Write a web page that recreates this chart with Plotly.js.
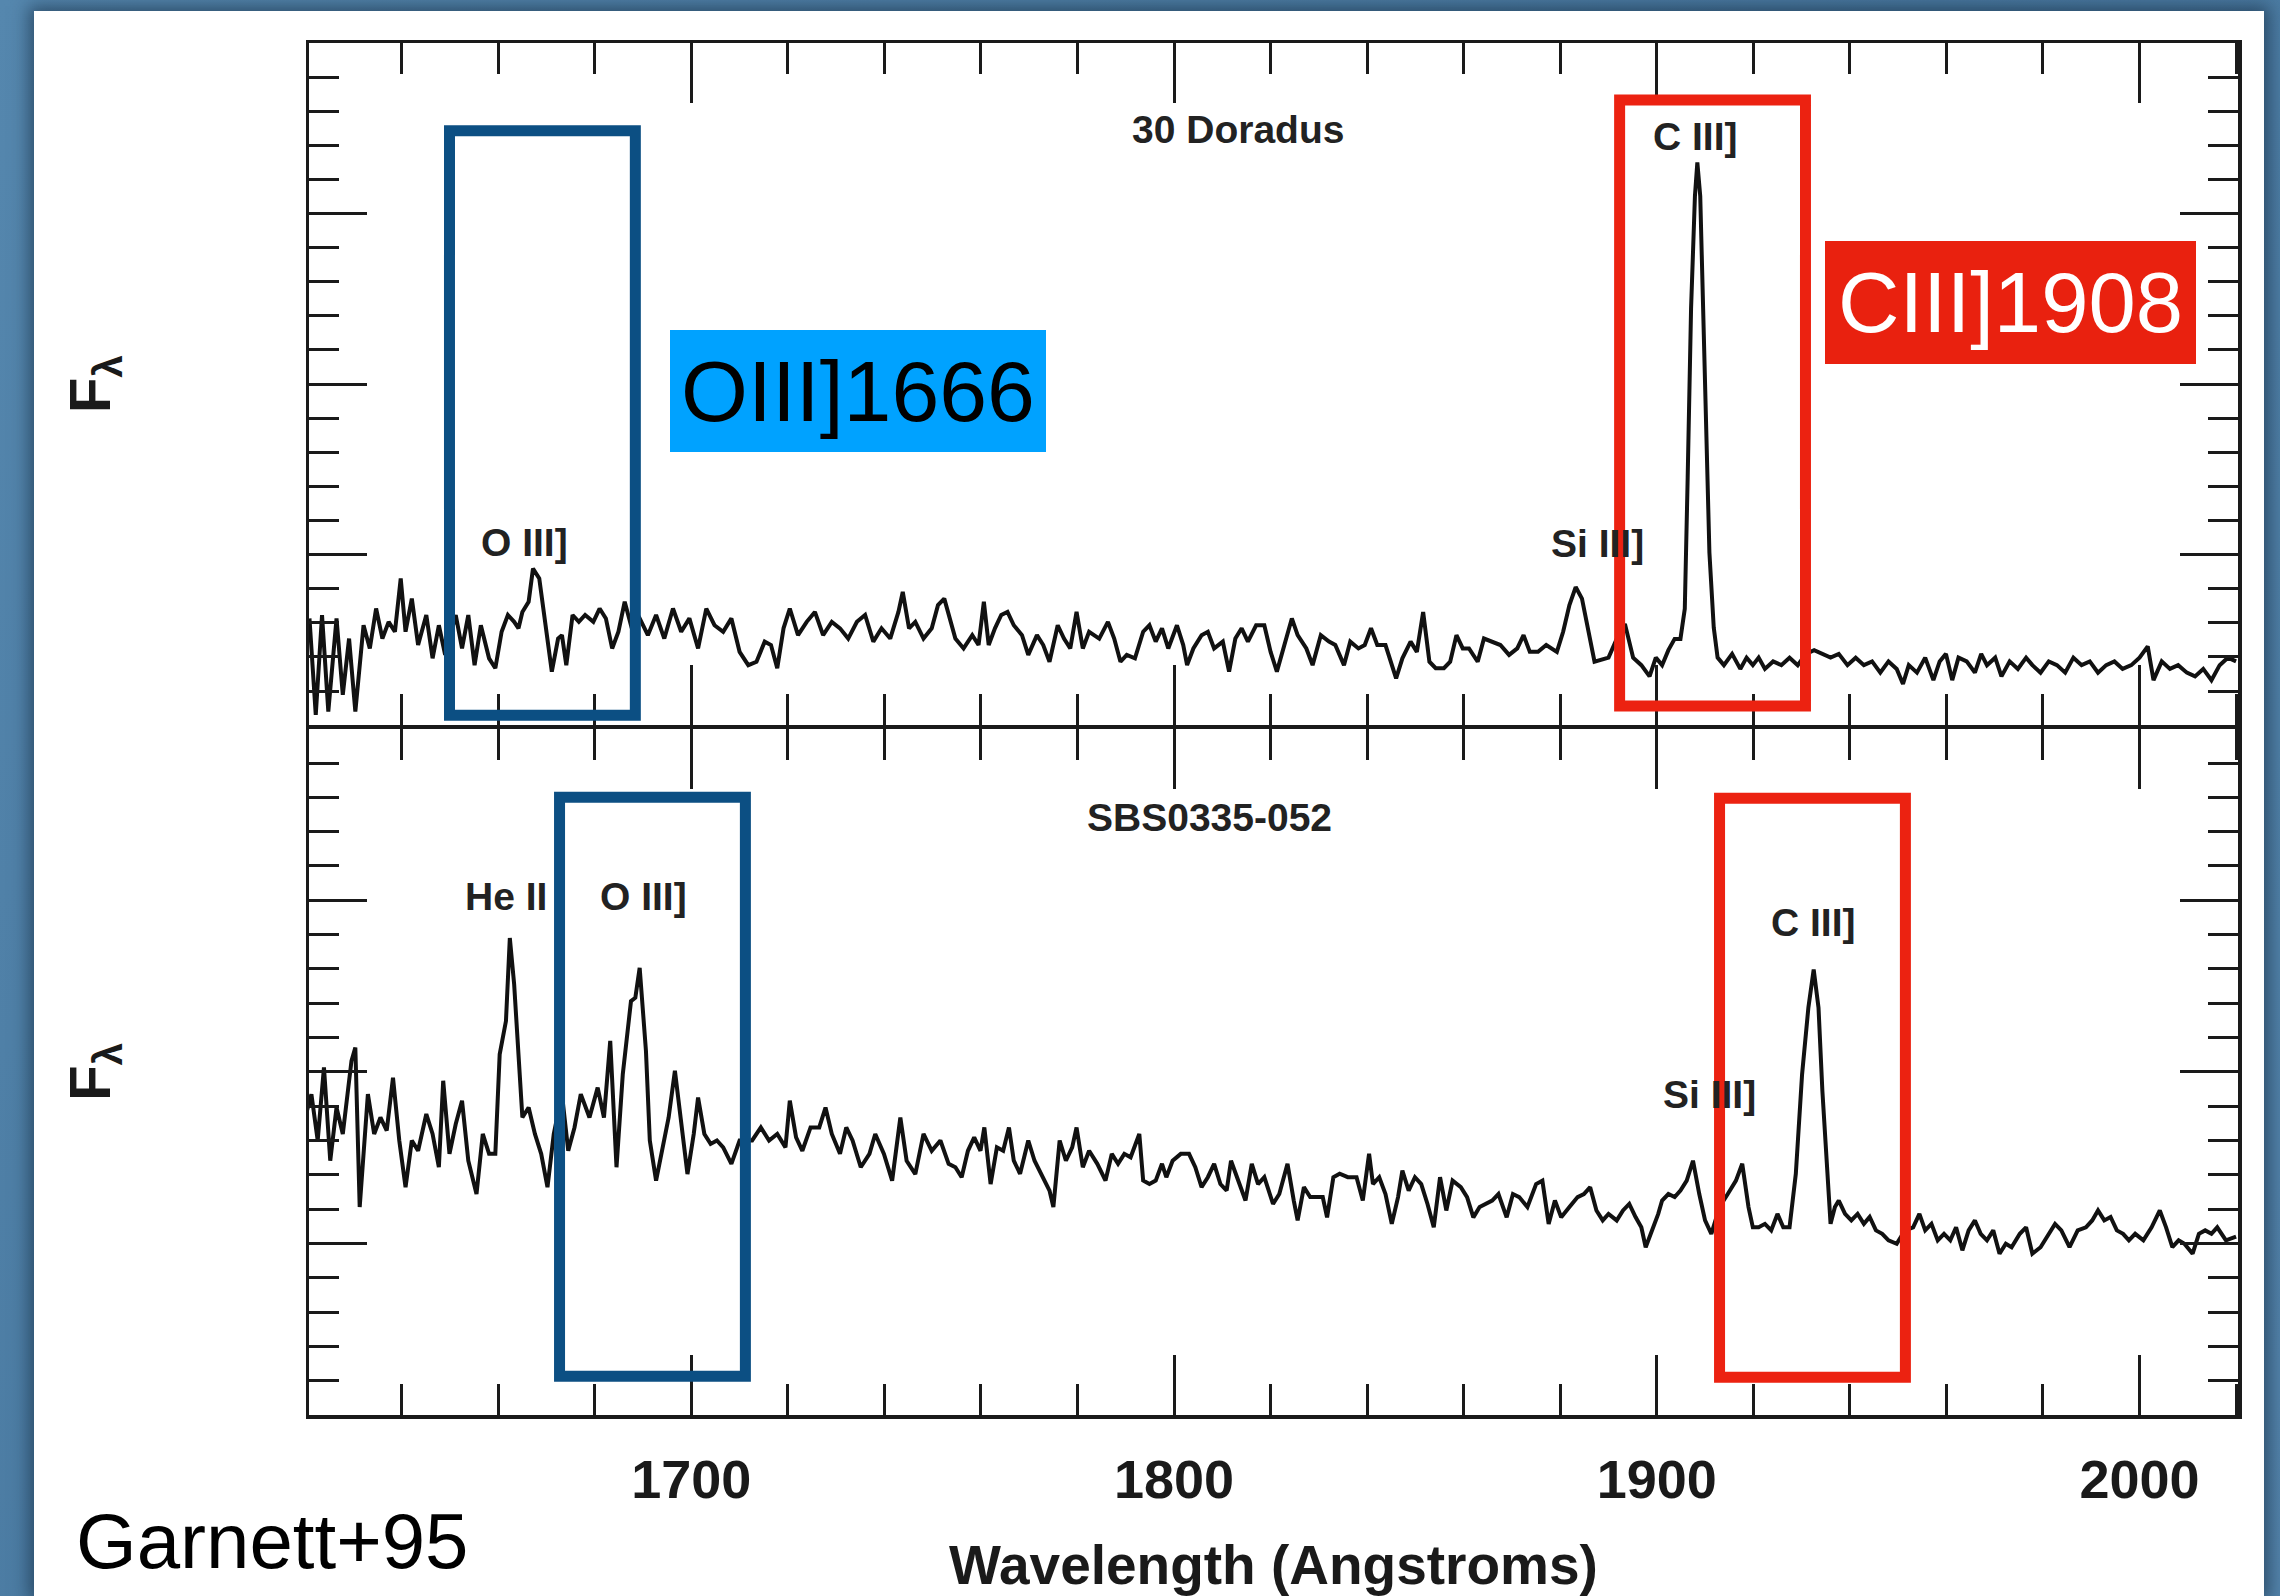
<!DOCTYPE html>
<html>
<head>
<meta charset="utf-8">
<script src="https://cdn.plot.ly/plotly-3.0.1.min.js"></script>
<style>
  html, body { margin: 0; padding: 0; width: 2280px; height: 1596px; overflow: hidden;
    background: linear-gradient(135deg, #5587ae 0%, #4a7aa1 50%, #5383aa 100%); }
  #sheet { position: absolute; left: 34px; top: 11px; width: 2230px; height: 1585px; background: #fff;
    box-shadow: 0 0 16px 5px rgba(15, 35, 55, 0.55); }
  #chart { width: 2230px; height: 1585px; }
</style>
</head>
<body>
<div id="sheet"><div id="chart"></div></div>
<script>
// Wavelength axis labels (Angstroms)
const xTickVals = [1700, 1800, 1900, 2000];
const xTickText = ['1700', '1800', '1900', '2000'];

// 30 Doradus UV spectrum: [wavelength (A), F_lambda (arbitrary units)]
const spec30Dor = [
  [1620.9,3.13],[1622.2,0.30],[1623.5,3.23],[1624.8,0.40],[1626.5,3.13],[1627.8,0.89],[1629.1,2.54],[1630.4,0.40],
  [1632.1,2.93],[1633.4,2.25],[1634.7,3.42],[1636.0,2.54],[1637.3,3.03],[1638.6,2.74],[1639.8,4.30],[1640.8,2.74],
  [1642.1,3.71],[1643.4,2.35],[1645.1,3.23],[1646.4,1.96],[1647.7,2.93],[1649.0,2.06],[1651.2,3.23],[1652.5,2.25],
  [1653.8,3.23],[1655.1,1.76],[1656.4,2.93],[1658.1,1.96],[1659.4,1.67],[1660.7,2.74],[1662.0,3.23],[1663.3,3.03],
  [1664.2,2.84],[1665.0,3.32],[1666.3,3.62],[1667.2,4.59],[1668.5,4.30],[1669.8,2.93],[1671.1,1.57],[1672.4,2.54],
  [1673.2,2.64],[1674.1,1.76],[1675.4,3.23],[1676.7,3.03],[1678.0,3.23],[1679.7,3.03],[1681.0,3.42],[1682.3,3.13],
  [1683.6,2.25],[1684.9,2.74],[1686.2,3.62],[1687.5,2.93],[1689.3,3.13],[1691.0,2.64],[1692.7,3.23],[1694.4,2.54],
  [1696.2,3.42],[1697.9,2.74],[1699.6,3.13],[1701.4,2.25],[1703.1,3.42],[1704.8,2.93],[1706.6,2.74],[1708.3,3.13],
  [1710.0,2.15],[1711.8,1.76],[1713.5,1.86],[1715.2,2.45],[1716.5,2.35],[1717.8,1.67],[1719.1,2.84],[1720.4,3.42],
  [1722.1,2.64],[1723.9,3.03],[1725.6,3.32],[1727.3,2.64],[1729.1,3.03],[1730.8,2.84],[1732.5,2.54],[1734.3,3.03],
  [1736.0,3.23],[1737.7,2.45],[1739.4,2.84],[1741.2,2.54],[1742.9,3.32],[1743.8,3.91],[1745.1,2.84],[1746.4,3.03],
  [1748.1,2.54],[1749.8,2.84],[1751.1,3.52],[1752.4,3.71],
  [1754.7,2.54],[1756.4,2.25],[1758.2,2.64],[1759.5,2.35],[1760.6,3.62],[1761.6,2.35],[1762.9,2.84],[1764.2,3.23],
  [1765.5,3.32],[1766.8,2.93],[1768.5,2.64],[1769.8,2.06],[1771.6,2.64],[1772.9,2.35],[1774.2,1.86],[1775.9,2.93],
  [1777.2,2.54],[1778.5,2.25],[1779.8,3.32],[1781.1,2.25],[1782.4,2.74],[1784.5,2.54],[1786.3,3.03],[1787.6,2.54],
  [1788.9,1.86],[1790.2,2.06],[1791.9,1.96],[1793.6,2.74],[1794.9,2.93],[1796.2,2.45],[1797.5,2.84],[1798.8,2.25],
  [1800.6,2.93],[1801.9,2.35],[1802.7,1.76],[1804.0,2.25],[1805.7,2.64],[1807.0,2.74],[1808.3,2.25],[1810.1,2.45],
  [1811.4,1.57],[1812.7,2.54],[1814.0,2.84],[1815.3,2.45],[1817.0,2.93],[1818.7,2.93],[1820.0,2.15],[1821.3,1.57],
  [1822.6,2.25],[1824.4,3.13],[1825.6,2.64],[1827.4,2.25],[1828.7,1.76],[1830.4,2.64],[1832.1,2.45],[1833.4,2.35],
  [1835.2,1.76],[1836.5,2.45],[1838.2,2.25],[1839.5,2.35],[1840.8,2.84],[1842.1,2.35],[1843.8,2.35],[1845.1,1.76],
  [1846.0,1.37],[1847.3,1.96],[1849.0,2.45],[1850.3,2.15],[1851.6,3.32],[1852.9,1.86],[1854.2,1.67],[1855.9,1.67],
  [1857.2,1.86],[1858.5,2.64],[1859.8,2.25],[1861.1,2.25],[1862.9,1.86],[1864.2,2.54],[1865.9,2.45],[1867.6,2.35],
  [1869.4,2.06],[1871.1,2.25],[1872.4,2.64],[1873.7,2.15],[1875.4,2.15],[1877.1,2.35],[1879.3,2.15],[1880.6,2.74],
  [1881.9,3.52],[1883.2,4.05],[1884.5,3.71],[1885.8,2.74],[1887.1,1.86],
  [1890.0,1.98],[1891.7,2.53],[1893.4,2.97],[1895.1,1.98],[1896.8,1.76],[1898.5,1.43],[1899.8,1.98],[1901.1,1.76],
  [1902.4,2.20],[1903.7,2.53],[1904.9,2.53],[1905.8,3.41],[1906.4,7.26],[1907.1,12.21],[1907.9,15.51],[1908.4,16.50],
  [1909.0,15.51],[1909.6,12.21],[1910.3,8.36],[1910.9,5.06],[1911.8,2.86],[1912.6,1.98],[1913.9,1.76],[1915.6,2.09],
  [1917.3,1.65],[1918.6,1.98],[1919.9,1.76],[1921.1,1.98],[1922.4,1.65],[1924.1,1.87],[1925.8,1.76],[1927.5,1.98],
  [1929.2,1.76],[1930.9,2.09],[1932.6,2.20],[1934.3,2.09],[1936.0,1.98],[1937.7,2.09],[1939.5,1.76],[1941.2,1.98],
  [1942.9,1.76],[1944.6,1.87],[1946.3,1.54],[1948.0,1.87],[1949.7,1.65],[1951.0,1.21],[1952.2,1.76],[1953.9,1.54],
  [1955.6,1.98],[1957.3,1.32],[1958.6,1.87],[1959.9,2.09],[1961.2,1.32],[1962.5,1.98],[1964.2,1.87],[1965.9,1.54],
  [1967.2,2.09],[1968.4,1.76],[1970.1,1.98],[1971.4,1.43],[1973.1,1.87],[1974.8,1.65],[1976.5,1.98],[1977.8,1.76],
  [1979.5,1.54],[1981.2,1.87],[1982.9,1.76],[1984.6,1.54],[1986.3,1.98],[1988.0,1.76],[1989.7,1.87],[1991.4,1.54],
  [1993.1,1.76],[1994.8,1.87],[1996.5,1.65],[1998.3,1.76],[2000.0,1.98],[2001.7,2.31],[2002.9,1.32],[2004.6,1.87],
  [2006.3,1.65],[2008.0,1.76],[2009.8,1.54],[2011.5,1.43],[2013.2,1.65],[2014.9,1.32],[2016.6,1.76],[2018.3,1.98],
  [2020.0,1.87]
];

// SBS0335-052 UV spectrum: [wavelength (A), F_lambda (arbitrary units)]
const specSBS = [
  [1620.0,8.67],[1621.3,9.35],[1622.6,8.00],[1623.9,10.13],[1625.2,7.41],[1626.5,8.96],[1627.8,8.19],[1629.6,10.32],
  [1630.4,10.71],[1631.3,6.06],[1633.0,9.35],[1634.3,8.19],[1635.6,8.67],[1636.9,8.29],[1638.2,9.83],[1639.5,8.00],
  [1640.8,6.64],[1642.1,8.00],[1643.4,7.70],[1645.1,8.77],[1646.4,8.19],[1647.7,7.22],[1648.6,9.74],[1649.9,7.61],
  [1651.2,8.48],[1652.5,9.16],[1653.8,7.41],[1655.5,6.44],[1656.8,8.19],[1658.1,7.61],[1659.4,7.61],[1660.3,10.51],
  [1661.6,11.48],[1662.4,13.90],[1663.3,12.55],[1664.2,10.61],[1665.0,8.67],[1666.3,8.96],[1667.6,8.19],[1668.9,7.61],
  [1670.2,6.64],[1671.5,8.19],[1673.2,9.35],[1674.5,7.70],[1675.8,8.38],[1677.1,9.35],[1678.9,8.67],[1680.6,9.54],
  [1681.9,8.67],[1683.2,10.90],[1684.5,7.22],[1685.8,9.93],[1687.5,12.06],[1688.4,12.16],[1689.3,13.03],[1690.6,10.61],
  [1691.4,8.00],[1692.7,6.83],[1694.0,7.70],[1695.3,8.67],[1696.6,10.03],[1697.9,8.57],[1699.2,7.02],[1700.5,8.19],
  [1701.4,9.25],[1702.7,8.19],[1704.0,7.90],[1705.3,8.00],[1706.6,7.80],[1708.3,7.32],[1710.0,8.00],[1712.6,8.00],
  [1714.4,8.38],[1716.1,8.00],[1717.8,8.19],[1719.5,7.80],[1720.4,9.16],[1721.7,8.09],[1723.0,7.70],[1724.7,8.38],
  [1726.5,8.38],[1727.8,8.96],[1729.1,8.19],[1730.8,7.61],[1732.1,8.38],[1733.4,8.00],[1735.1,7.22],[1736.9,7.61],
  [1738.1,8.19],[1739.9,7.61],[1741.6,6.83],[1743.3,8.67],[1744.6,7.41],[1746.4,7.02],[1748.1,8.19],[1749.8,7.70],
  [1751.6,8.00],[1753.3,7.32],
  [1754.7,7.22],[1756.0,6.93],[1757.3,7.70],[1758.6,8.09],[1759.9,7.70],[1760.7,8.38],[1762.0,6.73],[1763.3,7.80],
  [1764.6,7.70],[1765.8,8.38],[1766.8,7.41],[1768.1,7.03],[1769.8,8.00],[1771.1,7.41],[1772.9,6.93],[1774.2,6.54],
  [1775.0,6.06],[1776.3,8.00],[1777.6,7.41],[1778.9,7.80],[1779.8,8.38],[1781.1,7.22],[1782.4,7.70],[1784.1,7.32],
  [1785.8,6.83],[1787.1,7.61],[1788.4,7.32],[1789.7,7.61],[1791.0,7.51],[1792.8,8.19],[1793.6,6.83],[1794.9,6.73],
  [1796.2,6.83],[1797.5,7.32],[1798.4,6.93],[1799.7,7.41],[1801.4,7.61],[1803.1,7.61],[1804.4,7.22],[1805.7,6.64],
  [1807.0,6.93],[1808.3,7.32],[1809.6,6.73],[1810.9,6.54],[1811.8,7.41],[1813.5,6.73],[1814.8,6.25],[1816.1,7.32],
  [1817.4,6.73],[1818.7,6.93],[1820.5,6.15],[1821.8,6.44],[1823.5,7.32],[1824.8,6.25],[1825.6,5.67],[1826.9,6.64],
  [1828.2,6.35],[1829.5,6.35],[1830.8,6.35],[1831.7,5.76],[1833.0,6.93],[1834.3,7.03],[1836.0,6.93],[1837.8,6.93],
  [1839.1,6.25],[1840.4,7.61],[1841.2,6.73],[1842.5,6.93],[1843.8,6.44],[1845.1,5.57],[1846.4,6.35],[1847.3,7.12],
  [1848.6,6.54],[1849.9,6.93],[1851.2,6.73],[1852.5,6.15],[1853.8,5.47],[1855.1,6.93],[1856.4,5.96],[1857.7,6.83],
  [1859.4,6.64],[1860.7,6.35],[1862.0,5.76],[1863.3,6.06],[1864.6,6.15],[1865.9,6.25],[1867.2,6.44],[1868.9,5.76],
  [1870.2,6.44],[1871.5,6.35],[1873.2,6.06],[1875.0,6.73],[1876.3,6.83],[1877.6,5.57],[1878.9,6.25],[1880.2,5.76],
  [1881.9,6.06],[1883.6,6.35],[1884.9,6.44],[1886.2,6.64],[1887.5,5.96],[1888.8,5.67],
  [1890.0,5.86],[1891.7,5.67],[1893.0,5.96],[1894.3,6.15],[1895.6,5.77],[1896.8,5.47],[1897.7,4.89],[1899.0,5.38],
  [1900.3,5.86],[1901.1,6.25],[1902.4,6.44],[1903.7,6.35],[1904.9,6.54],[1906.2,6.83],[1907.5,7.41],[1908.8,6.44],
  [1910.0,5.67],[1911.3,5.28],[1913.0,6.06],[1914.7,6.44],[1916.4,6.83],[1917.7,7.32],[1919.0,6.06],[1919.9,5.47],
  [1921.1,5.47],[1922.4,5.57],[1923.7,5.38],[1925.0,5.86],[1926.2,5.47],[1927.5,5.47],[1928.8,7.03],[1930.1,9.93],
  [1931.4,11.87],[1932.5,12.98],[1933.5,11.87],[1934.3,9.45],[1935.2,7.51],[1936.0,5.57],[1936.9,6.06],[1937.7,6.25],
  [1939.0,5.86],[1940.3,5.67],[1941.6,5.86],[1942.9,5.57],[1944.1,5.77],[1945.4,5.38],[1946.7,5.28],[1948.0,5.09],
  [1949.7,4.99],[1951.4,5.38],[1953.1,5.47],[1954.4,5.86],[1955.6,5.38],[1956.9,5.57],[1958.2,5.09],[1959.5,5.28],
  [1960.8,5.09],[1962.0,5.47],[1963.3,4.80],[1964.6,5.38],[1965.9,5.67],[1967.1,5.28],[1968.4,5.09],[1969.7,5.38],
  [1971.0,4.70],[1972.3,4.99],[1973.5,4.89],[1975.2,5.28],[1976.5,5.47],[1977.8,4.70],[1979.5,4.89],[1981.2,5.28],
  [1982.5,5.57],[1983.8,5.38],[1985.5,4.89],[1987.2,5.38],[1988.9,5.47],[1990.2,5.67],[1991.4,5.96],[1992.7,5.67],
  [1994.0,5.77],[1995.3,5.38],[1996.6,5.28],[1997.8,5.09],[1999.1,5.28],[2000.8,5.09],[2002.5,5.47],[2004.2,5.96],
  [2005.5,5.47],[2006.8,4.89],[2008.1,5.09],[2009.3,4.99],[2011.0,4.70],[2012.3,5.28],[2013.6,5.38],[2014.9,5.28],
  [2016.1,5.47],[2017.9,5.09],[2020.0,5.20]
];

const FONT = 'Liberation Sans, Arial, Helvetica, sans-serif';
const INK = '#1a1a1a';
const SPLIT = 0.5015;          // boundary between the two stacked panels
const GAP = 0.00128;           // half of the frame-line width, so both panel edges share one line
const BLUE_PEN = '#0c4f83';
const RED_PEN = '#ec2211';

const spectrumLine = { color: '#111', width: 4 };

const traces = [
  { x: spec30Dor.map(p => p[0]), y: spec30Dor.map(p => p[1]), xaxis: 'x2', yaxis: 'y2',
    type: 'scatter', mode: 'lines', line: spectrumLine, name: '30 Doradus', hoverinfo: 'skip' },
  { x: specSBS.map(p => p[0]), y: specSBS.map(p => p[1]), xaxis: 'x', yaxis: 'y',
    type: 'scatter', mode: 'lines', line: spectrumLine, name: 'SBS0335-052', hoverinfo: 'skip' }
];

const xBase = {
  range: [1620.8, 2020.4], showgrid: false, zeroline: false,
  showline: true, linecolor: INK, linewidth: 3.5, mirror: 'ticks',
  ticks: 'inside', ticklen: 60, tickwidth: 3, tickcolor: INK,
  tickmode: 'array', tickvals: xTickVals, ticktext: xTickText,
  minor: { tickmode: 'linear', tick0: 1620, dtick: 20, ticks: 'inside', ticklen: 31,
           tickwidth: 3, tickcolor: INK, showgrid: false }
};

const yBase = {
  range: [0, 20], showgrid: false, zeroline: false,
  showline: true, linecolor: INK, linewidth: 3.5, mirror: 'ticks',
  ticks: 'inside', ticklen: 58, tickwidth: 3, tickcolor: INK,
  tickmode: 'linear', tick0: 0, dtick: 5, showticklabels: false,
  minor: { tickmode: 'linear', tick0: 0, dtick: 1, ticks: 'inside', ticklen: 30,
           tickwidth: 3, tickcolor: INK, showgrid: false },
  title: { text: 'F<sub>λ</sub>', font: { family: FONT, size: 58, color: INK, weight: 700 }, standoff: 177 }
};

function lineLabel(text, x, y, xref, yref) {
  return { text, x, y, xref, yref, showarrow: false, xanchor: 'center', yanchor: 'middle',
           font: { family: FONT, size: 39, color: '#222', weight: 700 } };
}

const layout = {
  width: 2230, height: 1585,
  margin: { l: 275, r: 26, t: 32, b: 181 },
  paper_bgcolor: '#ffffff', plot_bgcolor: 'rgba(0,0,0,0)',
  showlegend: false,
  xaxis: Object.assign({}, xBase, {
    anchor: 'y', domain: [0, 1], showticklabels: true,
    tickfont: { family: FONT, size: 54, color: INK, weight: 700 }, ticklabelstandoff: 15,
    title: { text: 'Wavelength (Angstroms)', font: { family: FONT, size: 55, color: INK, weight: 700 }, standoff: 38 }
  }),
  xaxis2: Object.assign({}, xBase, { anchor: 'y2', matches: 'x', showticklabels: false }),
  yaxis: Object.assign({}, yBase, { domain: [0, SPLIT - GAP], anchor: 'x' }),
  yaxis2: Object.assign({}, yBase, { domain: [SPLIT + GAP, 1], anchor: 'x2' }),
  shapes: [
    // hand-marked windows around O III] 1666 and C III] 1908 in each spectrum
    { type: 'rect', xref: 'x2', yref: 'y2', x0: 1649.9, x1: 1688.4, y0: 0.29, y1: 17.43,
      line: { color: BLUE_PEN, width: 11 }, fillcolor: 'rgba(0,0,0,0)' },
    { type: 'rect', xref: 'x2', yref: 'y2', x0: 1892.3, x1: 1930.8, y0: 0.56, y1: 18.33,
      line: { color: RED_PEN, width: 11 }, fillcolor: 'rgba(0,0,0,0)' },
    { type: 'rect', xref: 'x', yref: 'y', x0: 1672.7, x1: 1711.2, y0: 1.13, y1: 18.0,
      line: { color: BLUE_PEN, width: 11 }, fillcolor: 'rgba(0,0,0,0)' },
    { type: 'rect', xref: 'x', yref: 'y', x0: 1913.0, x1: 1951.5, y0: 1.10, y1: 17.97,
      line: { color: RED_PEN, width: 11 }, fillcolor: 'rgba(0,0,0,0)' }
  ],
  annotations: [
    lineLabel('30 Doradus', 1813.2, 17.46, 'x2', 'y2'),
    lineLabel('O III]', 1665.4, 5.35, 'x2', 'y2'),
    lineLabel('Si III]', 1887.7, 5.32, 'x2', 'y2'),
    lineLabel('C III]', 1908.0, 17.25, 'x2', 'y2'),
    lineLabel('SBS0335-052', 1807.3, 17.41, 'x', 'y'),
    lineLabel('He II', 1661.7, 15.1, 'x', 'y'),
    lineLabel('O III]', 1690.1, 15.1, 'x', 'y'),
    lineLabel('Si III]', 1910.9, 9.33, 'x', 'y'),
    lineLabel('C III]', 1932.4, 14.36, 'x', 'y'),
    { text: 'OIII]1666', x: 1734.6, y: 9.80, xref: 'x2', yref: 'y2', showarrow: false,
      xanchor: 'center', yanchor: 'middle', width: 376, height: 122, bgcolor: '#00a2ff',
      borderpad: 0, borderwidth: 0, valign: 'middle',
      font: { family: FONT, size: 86, color: '#000' } },
    { text: 'CIII]1908', x: 1973.2, y: 12.38, xref: 'x2', yref: 'y2', showarrow: false,
      xanchor: 'center', yanchor: 'middle', width: 371, height: 123, bgcolor: '#e9210f',
      borderpad: 0, borderwidth: 0, valign: 'middle',
      font: { family: FONT, size: 85, color: '#fff' } },
    { text: 'Garnett+95', xref: 'paper', yref: 'paper', x: -0.1218, y: -0.0918,
      xanchor: 'left', yanchor: 'middle', showarrow: false,
      font: { family: FONT, size: 78, color: '#000' } }
  ]
};

Plotly.newPlot('chart', traces, layout, { staticPlot: true, displayModeBar: false });
</script>
</body>
</html>
